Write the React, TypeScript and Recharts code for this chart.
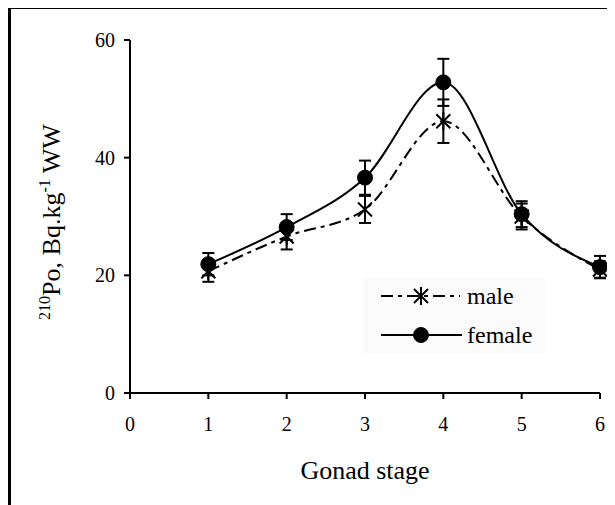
import React from 'react';
import { LineChart, Line, XAxis, YAxis, ErrorBar, Legend } from 'recharts';

const stages = [1, 2, 3, 4, 5, 6];
const maleValues = [20.7, 26.6, 31.2, 46.2, 30.0, 21.0];
const maleErrors = [1.8, 2.2, 2.3, 3.7, 2.2, 1.4];
const femaleValues = [21.9, 28.2, 36.6, 52.8, 30.4, 21.4];
const femaleErrors = [1.9, 2.2, 2.9, 4.0, 2.2, 1.9];
const xTicks = [0, 1, 2, 3, 4, 5, 6];
const yTicks = [0, 20, 40, 60];
const seriesNames = ['male', 'female'];
const xTitle = 'Gonad stage';

const data = stages.map((s, i) => ({
  stage: s,
  male: maleValues[i],
  maleErr: maleErrors[i],
  female: femaleValues[i],
  femaleErr: femaleErrors[i],
}));

const FONT = 'Liberation Serif';
const MALE_DASH = '12 5 4 5';

const Asterisk = (props: any) => {
  const { cx, cy } = props;
  if (cx == null || cy == null) return null;
  const d = 7;
  return (
    <g stroke="#000" strokeWidth={2}>
      <line x1={cx - d} y1={cy - d} x2={cx + d} y2={cy + d} />
      <line x1={cx - d} y1={cy + d} x2={cx + d} y2={cy - d} />
      <line x1={cx} y1={cy - 9} x2={cx} y2={cy + 9} />
    </g>
  );
};

const Circle = (props: any) => {
  const { cx, cy } = props;
  if (cx == null || cy == null) return null;
  return <circle cx={cx} cy={cy} r={7.5} fill="#000" stroke="#000" />;
};

const renderLegend = () => (
  <svg width={182} height={75} style={{ display: 'block' }}>
    <rect x={0} y={0} width={182} height={75} fill="#fbfbfb" />
    <line x1={18} y1={18} x2={97} y2={18} stroke="#000" strokeWidth={2} strokeDasharray={MALE_DASH} />
    <Asterisk cx={58} cy={18} />
    <text x={104} y={26} fontFamily={FONT} fontSize={24} fill="#000">{seriesNames[0]}</text>
    <line x1={18} y1={57} x2={99} y2={57} stroke="#000" strokeWidth={2} />
    <Circle cx={58} cy={57} />
    <text x={104} y={65} fontFamily={FONT} fontSize={24} fill="#000">{seriesNames[1]}</text>
  </svg>
);

const YLabel = () => (
  <text
    transform="translate(49,213) rotate(-90)"
    textAnchor="middle"
    fontFamily={FONT}
    fontSize={26}
    fill="#000"
  >
    <tspan fontSize={16} dy={-10}>210</tspan>
    <tspan dy={10}>Po, Bq.kg</tspan>
    <tspan fontSize={16} dy={-10}>-1</tspan>
    <tspan dy={10}> WW</tspan>
  </text>
);

const XLabel = () => (
  <text x={354} y={470} textAnchor="middle" fontFamily={FONT} fontSize={26} fill="#000">
    {xTitle}
  </text>
);

export default function App() {
  return (
    <div
      style={{
        marginTop: -1,
        borderTop: '2px solid #000',
        borderLeft: '3px solid #000',
        width: 604,
        height: 496,
        background: '#fff',
        fontFamily: FONT,
      }}
    >
      <LineChart
        width={604}
        height={496}
        data={data}
        margin={{ top: 31, right: 15, left: 59, bottom: 52 }}
        style={{ fontFamily: FONT }}
      >
        <XAxis
          dataKey="stage"
          type="number"
          domain={[0, 6]}
          ticks={xTicks}
          interval={0}
          height={60}
          stroke="#000"
          strokeWidth={2}
          tickSize={6}
          tickMargin={18}
          tick={{ fill: '#000', fontFamily: FONT, fontSize: 20 }}
          tickLine={{ stroke: '#000', strokeWidth: 2 }}
          label={{ content: XLabel }}
        />
        <YAxis
          type="number"
          domain={[0, 60]}
          ticks={yTicks}
          interval={0}
          width={60}
          stroke="#000"
          strokeWidth={2}
          tickSize={6}
          tickMargin={9}
          tick={{ fill: '#000', fontFamily: FONT, fontSize: 20 }}
          tickLine={{ stroke: '#000', strokeWidth: 2 }}
          label={{ content: YLabel }}
        />
        <Legend
          content={renderLegend}
          layout="horizontal"
          align="center"
          verticalAlign="middle"
          wrapperStyle={{ position: 'absolute', left: 352, top: 269, width: 182, height: 75 }}
        />
        <Line
          type="monotone"
          dataKey="male"
          stroke="#000"
          strokeWidth={2}
          strokeDasharray={MALE_DASH}
          dot={<Asterisk />}
          activeDot={false}
          isAnimationActive={false}
        >
          <ErrorBar dataKey="maleErr" direction="y" width={6} stroke="#000" strokeWidth={2} isAnimationActive={false} />
        </Line>
        <Line
          type="monotone"
          dataKey="female"
          stroke="#000"
          strokeWidth={2}
          dot={<Circle />}
          activeDot={false}
          isAnimationActive={false}
        >
          <ErrorBar dataKey="femaleErr" direction="y" width={6} stroke="#000" strokeWidth={2} isAnimationActive={false} />
        </Line>
      </LineChart>
    </div>
  );
}
